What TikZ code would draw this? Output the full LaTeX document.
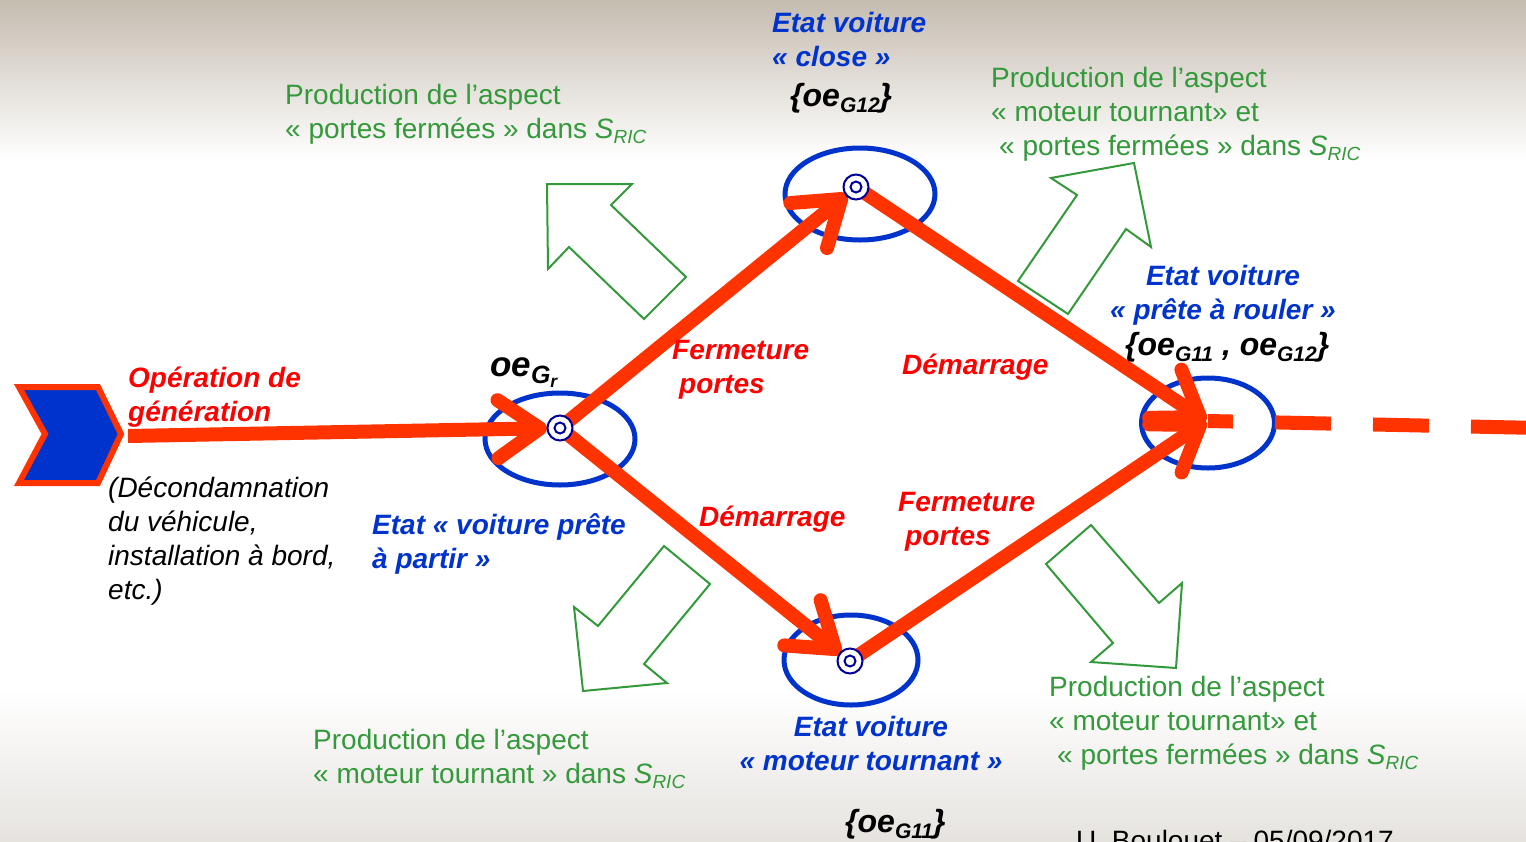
\documentclass[tikz,border=0pt]{standalone}
\usepackage{fontspec}
\setmainfont{Liberation Sans}
\usetikzlibrary{arrows.meta,shapes.geometric}

\definecolor{vermil}{HTML}{FF3300}
\definecolor{etatblue}{HTML}{0033CC}
\definecolor{aspectgreen}{HTML}{33993A}
\definecolor{navyring}{HTML}{000099}
\definecolor{bgtop}{HTML}{C5BCB0}
\definecolor{bgbot}{HTML}{E6E3DF}

\newcommand{\lowsub}[1]{\raisebox{-0.4ex}{\fontsize{19}{19}\selectfont\itshape #1}}
\newcommand{\setsub}[1]{\raisebox{-0.4ex}{\fontsize{21}{21}\selectfont\itshape #1}}
\newcommand{\sric}{\textit{S}\lowsub{RIC}}

\tikzset{
  aspect/.style={text=aspectgreen, font=\fontsize{28}{34}\selectfont, align=left, anchor=base west, inner sep=0pt},
  etat/.style={text=etatblue, font=\fontsize{28}{34}\selectfont\bfseries\itshape, inner sep=0pt},
  action/.style={text=red, font=\fontsize{28}{34}\selectfont\bfseries\itshape, align=left, anchor=base west, inner sep=0pt},
  ensemble/.style={font=\fontsize{32}{34}\selectfont\bfseries\itshape, anchor=base west, inner sep=0pt},
  state/.style={ellipse, draw=etatblue, line width=5pt, inner sep=0pt},
  target/.style={circle, draw=navyring, fill=white, line width=2pt, minimum size=25pt, inner sep=0pt,
    path picture={\draw[navyring, line width=2pt] (path picture bounding box.center) circle (5.5pt);}},
  flow/.style={draw=vermil, line width=14pt, -{Straight Barb[length=42pt,width=58pt,round]}},
  bigarrow/.style={draw=aspectgreen, line width=2pt, line join=miter},
}

\begin{document}
\begin{tikzpicture}[x=1pt, y=-1pt]
  \useasboundingbox (0,0) rectangle (1526,841);
  \clip (0,0) rectangle (1526,841);

  % background
  \fill[white] (0,0) rectangle (1526,841);
  \shade[top color=bgtop, bottom color=white] (0,0) rectangle (1526,160);
  \shade[top color=white, bottom color=bgbot] (0,690) rectangle (1526,841);

  % entry chevron
  \draw[vermil, fill=etatblue, line width=6pt, line join=miter]
    (19,387) -- (98,387) -- (121,434) -- (98,483) -- (19,483) -- (45,434) -- cycle;
  \coordinate (entree) at (128,436);

  % states
  \node[state, minimum width=150pt, minimum height=92pt] (gr) at (560,439) {};
  \node[state, minimum width=150pt, minimum height=92pt] (close) at (860,194) {};
  \node[state, minimum width=134pt, minimum height=90pt] (moteur) at (851,660) {};
  \node[state, minimum width=133pt, minimum height=90pt] (rouler) at (1208,423) {};
  \coordinate (grt) at (560,428);
  \coordinate (closet) at (856,187);
  \coordinate (moteurt) at (850,661);
  \coordinate (roulert) at (1206,421);
  \coordinate (sortie) at (1540,428);

  % aspect arrows
  \draw[bigarrow] (547,184) -- (632,184) -- (611,205) -- (686,277) -- (644,319) -- (569,247) -- (548,269) -- cycle;
  \draw[bigarrow] (1051,178) -- (1134,163) -- (1151,247) -- (1126,229) -- (1068,314) -- (1018,281) -- (1077,195) -- cycle;
  \draw[bigarrow] (664,546) -- (710,584) -- (644,664) -- (667,683) -- (583,691) -- (574,607) -- (598,626) -- cycle;
  \draw[bigarrow] (1091,525) -- (1159,603) -- (1182,583) -- (1176,668) -- (1091,662) -- (1113,643) -- (1046,564) -- cycle;

  % transitions
  \draw[flow, shorten >=13pt] (entree) -- (grt);
  \draw[flow, shorten >=12pt] (grt) -- (closet);
  \draw[flow] (closet) -- (roulert);
  \draw[flow, shorten >=12pt] (grt) -- (moteurt);
  \draw[flow] (moteurt) -- (roulert);
  \draw[vermil, line width=14pt, dash pattern=on 56pt off 42pt, dash phase=31pt] ([xshift=2pt]roulert) -- (sortie);

  \node[target] at (grt) {};
  \node[target] at (closet) {};
  \node[target] at (moteurt) {};

  % labels (base = last line)
  \node[aspect] (aspectclose) at (285,138) {Production de l’aspect\\ « portes fermées » dans \sric};
  \node[aspect] (aspecthaut) at (991,155) {Production de l’aspect\\ « moteur tournant» et\\ \hspace*{8pt}« portes fermées » dans \sric};
  \node[aspect] (aspectmoteur) at (313,783) {Production de l’aspect\\ « moteur tournant » dans \sric};
  \node[aspect] (aspectbas) at (1049,764) {Production de l’aspect\\ « moteur tournant» et\\ \hspace*{8pt}« portes fermées » dans \sric};

  \node[etat, align=left, anchor=base west] (lblclose) at (772,66) {Etat voiture\\« close »};
  \node[etat, align=center, anchor=base] (lblrouler) at (1223,319) {Etat voiture\\« prête à rouler »};
  \node[etat, align=left, anchor=base west] (lblpartir) at (372,568) {Etat « voiture prête\\à partir »};
  \node[etat, align=center, anchor=base] (lblmoteur) at (871,770) {Etat voiture\\« moteur tournant »};

  \node[ensemble] (setclose) at (790,106) {\{oe\setsub{G12}\}};
  \node[ensemble] (setrouler) at (1125,355) {\{oe\setsub{G11} , oe\setsub{G12}\}};
  \node[ensemble] (setmoteur) at (845,832) {\{oe\setsub{G11}\}};
  \node[ensemble, font=\fontsize{35}{34}\selectfont\bfseries\itshape] (setgr) at (490,376)
    {oe\raisebox{-0.4ex}{\fontsize{25}{25}\selectfont G\textsubscript{r}}};

  \node[action] (opgen) at (128,421) {Opération de\\génération};
  \node[action] (ferm1) at (672,393) {Fermeture\\\hspace*{7pt}portes};
  \node[action] (dem1) at (902,374) {Démarrage};
  \node[action] (dem2) at (699,526) {Démarrage};
  \node[action] (ferm2) at (898,545) {Fermeture\\\hspace*{7pt}portes};

  \node[font=\fontsize{28}{34}\selectfont\itshape, align=left, anchor=base west, inner sep=0pt] (decond) at (108,599)
    {(Décondamnation\\du véhicule,\\installation à bord,\\etc.)};
  \node[font=\fontsize{28}{34}\selectfont, anchor=base west, inner sep=0pt] (auteur) at (1076,850) {U. Boulouet – 05/09/2017};
\end{tikzpicture}
\end{document}
